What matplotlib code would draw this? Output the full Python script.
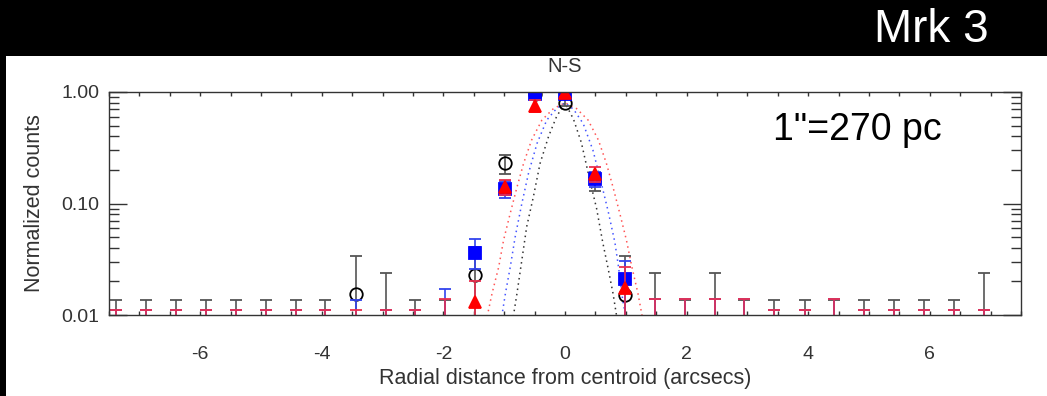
import numpy as np
import matplotlib
matplotlib.use('Agg')
import matplotlib.pyplot as plt
from matplotlib.patches import Rectangle
from matplotlib.ticker import FixedLocator, MultipleLocator, NullFormatter

plt.rcParams['font.family'] = ['Liberation Sans', 'DejaVu Sans']
plt.rcParams['axes.unicode_minus'] = False

# radial bins (arcsec), 0.492" pixels
r = [-7.38, -6.89, -6.40, -5.90, -5.41, -4.92, -4.43, -3.94, -3.44, -2.95,
     -2.46, -1.97, -1.48, -0.98, -0.49, 0.0, 0.49, 0.98, 1.48, 1.97,
     2.46, 2.95, 3.44, 3.94, 4.43, 4.92, 5.41, 5.90, 6.40, 6.89]

# black circles (0 = empty bin / hidden, bar drawn down to the axis)
blk_val = [0]*8 + [0.0153, 0, 0, 0, 0.0229, 0.229, 0.96, 0.80, 0, 0.0151] + [0]*12
blk_hi = [0.0137]*8 + [0.034, 0.024, 0.0135, 0.0137, 0.041, 0.274, 1.02, 0.86, 0.185, 0.034] + \
         [0.024, 0.0137, 0.024, 0.0137, 0.0135, 0.0135, 0.0137, 0.0135, 0.0135, 0.0135, 0.0135, 0.024]
blk_lo = [0]*8 + [0, 0, 0, 0, 0, 0.184, 0.9, 0.75, 0.13, 0] + [0]*12

# blue squares
blu_val = [0]*12 + [0.0357, 0.135, 0.96, 0.96, 0.166, 0.021] + [0]*12
blu_hi = [0.011]*8 + [0.0137, 0.011, 0.011, 0.0172, 0.048, 0.16, 1.05, 1.05, 0.19, 0.0305] + \
         [0.0138, 0.0138, 0.0138, 0.0138, 0.011, 0.011, 0.0138, 0.011, 0.011, 0.011, 0.011, 0.011]
blu_lo = [0]*12 + [0.026, 0.112, 0.88, 0.88, 0.14, 0] + [0]*12

# red triangles
red_val = [0]*12 + [0.0131, 0.14, 0.75, 0.97, 0.183, 0.0173] + [0]*12
red_hi = [0.011]*11 + [0.0139, 0.02, 0.163, 0.85, 1.05, 0.214, 0.027] + [0.0138]*4 + \
         [0.011, 0.011, 0.0138, 0.011, 0.011, 0.011, 0.011, 0.011]
red_lo = [0]*12 + [0, 0.118, 0.66, 0.9, 0.155, 0] + [0]*12

# dotted PSF profiles
psf_red_x = [-1.28, -1.20, -1.09, -1.01, -0.90, -0.79, -0.68, -0.55, -0.38, -0.19, 0.0,
             0.19, 0.38, 0.55, 0.68, 0.79, 0.90, 1.01, 1.10, 1.20, 1.27]
psf_red_y = [0.0097, 0.0156, 0.027, 0.047, 0.082, 0.14, 0.23, 0.37, 0.56, 0.71, 0.80,
             0.71, 0.56, 0.37, 0.23, 0.14, 0.082, 0.047, 0.027, 0.0156, 0.0097]
psf_blu_x = [-1.04, -0.98, -0.90, -0.82, -0.71, -0.60, -0.46, -0.30, -0.14, 0.0,
             0.14, 0.30, 0.46, 0.60, 0.71, 0.82, 0.88, 0.95, 1.0]
psf_blu_y = [0.0097, 0.0156, 0.027, 0.050, 0.10, 0.187, 0.346, 0.56, 0.71, 0.80,
             0.70, 0.52, 0.30, 0.15, 0.085, 0.045, 0.027, 0.0135, 0.0097]
psf_blk_x = [-0.85, -0.79, -0.71, -0.63, -0.52, -0.41, -0.27, -0.14, 0.0,
             0.14, 0.27, 0.41, 0.52, 0.62, 0.71, 0.79, 0.85]
psf_blk_y = [0.0097, 0.0156, 0.031, 0.062, 0.115, 0.229, 0.40, 0.60, 0.80,
             0.57, 0.35, 0.16, 0.09, 0.045, 0.026, 0.0156, 0.0097]

fig = plt.figure(figsize=(10.47, 3.96), dpi=100, facecolor='black')
fig.patches.append(Rectangle((6/1047, 0), 1, 340/396, transform=fig.transFigure,
                             facecolor='white', edgecolor='none', zorder=-5))

ax = fig.add_axes([109/1047, 81/396, 912/1047, 223/396])
ax.set_zorder(5)
ax.set_yscale('log')
ax.set_xlim(-7.5, 7.5)
ax.set_ylim(0.01, 1.0)

ax.plot(psf_red_x, psf_red_y, color='#ff5555', lw=1.1, ls=(0, (1, 2.5)))
ax.plot(psf_blu_x, psf_blu_y, color='#4455ff', lw=1.1, ls=(0, (1, 2.5)))
ax.plot(psf_blk_x, psf_blk_y, color='#333333', lw=1.1, ls=(0, (1, 2.5)))


def draw_series(val, lo, hi, color, ecolor, marker, mfc, ms):
    x = np.array(r)
    val = np.array(val, dtype=float)
    lo = np.array(lo, dtype=float)
    hi = np.array(hi, dtype=float)
    bottom = np.where(lo > 0, lo, 1e-3)
    ax.vlines(x, bottom, hi, color=ecolor, lw=1.2)
    ax.plot(x, hi, ls='none', marker='_', ms=9, mew=1.3, color=ecolor)
    m = lo > 0
    ax.plot(x[m], lo[m], ls='none', marker='_', ms=9, mew=1.3, color=ecolor)
    m = val > 0
    ax.plot(x[m], val[m], ls='none', marker=marker, ms=ms, mfc=mfc,
            mec=color, mew=1.3)


draw_series(blk_val, blk_lo, blk_hi, 'black', '#555555', 'o', 'none', 9)
draw_series(blu_val, blu_lo, blu_hi, '#0000ff', '#3344ee', 's', '#0000ff', 8)
draw_series(red_val, red_lo, red_hi, '#ff0000', '#e8304f', '^', '#ff0000', 8)

for s in ax.spines.values():
    s.set_color('#333333')
    s.set_linewidth(1.0)

ax.xaxis.set_major_locator(FixedLocator([-6, -4, -2, 0, 2, 4, 6]))
ax.xaxis.set_minor_locator(MultipleLocator(0.5))
ax.tick_params(axis='x', which='both', direction='in', top=True, bottom=True,
               length=3, width=1, color='#333333', pad=22,
               labelsize=14, labelcolor='#333333')
ax.yaxis.set_major_locator(FixedLocator([0.01, 0.1, 1.0]))
ax.set_yticklabels(['0.01', '0.10', '1.00'])
ax.yaxis.set_minor_formatter(NullFormatter())
ax.tick_params(axis='y', which='major', direction='in', left=True, right=True,
               length=13, width=1, color='#333333', pad=7,
               labelsize=14, labelcolor='#333333')
ax.tick_params(axis='y', which='minor', direction='in', left=True, right=True,
               length=7, width=1, color='#333333')

ax.set_xlabel('Radial distance from centroid (arcsecs)', fontsize=15.5,
              color='#333333', labelpad=4)
ax.set_ylabel('Normalized counts', fontsize=15.5, color='#333333', labelpad=12)

fig.text(565/1047, 1 - 67/396, 'N-S', ha='center', va='center',
         fontsize=14.5, color='#333333')
ax.text(857/1047, 1 - 130/396, '1"=270 pc', transform=fig.transFigure,
        ha='center', va='center', fontsize=27, color='black')
fig.text(931/1047, 1 - 30/396, 'Mrk 3', ha='center', va='center',
         fontsize=33, color='white')

fig.savefig('out.png', dpi=100, facecolor='black')
